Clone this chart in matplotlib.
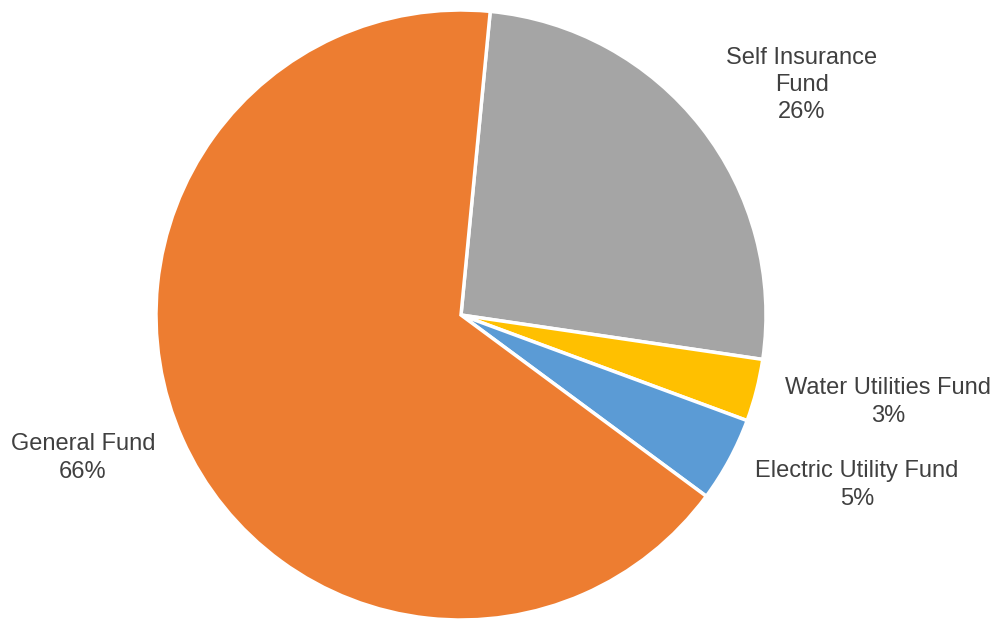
import matplotlib.pyplot as plt

# fund shares (clockwise from top)
funds = ["Self Insurance\nFund", "Water Utilities Fund", "Electric Utility Fund", "General Fund"]
shares = [25.8, 3.3, 4.5, 66.4]
pct_labels = ["26%", "3%", "5%", "66%"]
colors = ["#A5A5A5", "#FFC000", "#5B9BD5", "#ED7D31"]

# label centres in pixels (image coords)
label_px = [(802, 85), (888, 402), (857, 485), (83, 458)]

W, H = 998, 622
cx, cy, r = 461, 315, 305

fig = plt.figure(figsize=(W / 100, H / 100), dpi=100)
ax = fig.add_axes([0, 0, 1, 1])
ax.pie(shares, colors=colors, startangle=84.5, counterclock=False,
       wedgeprops=dict(edgecolor="white", linewidth=2.5))
ax.set_xlim(-cx / r, (W - cx) / r)
ax.set_ylim(-(H - cy) / r, cy / r)
ax.set_aspect("auto")
ax.axis("off")

for name, pct, (px, py) in zip(funds, pct_labels, label_px):
    ax.text((px - cx) / r, (cy - py) / r, name + "\n" + pct,
            ha="center", va="center", fontsize=17, color="#404040",
            family="Liberation Sans", linespacing=1.3)

fig.savefig("out.png", dpi=100)
